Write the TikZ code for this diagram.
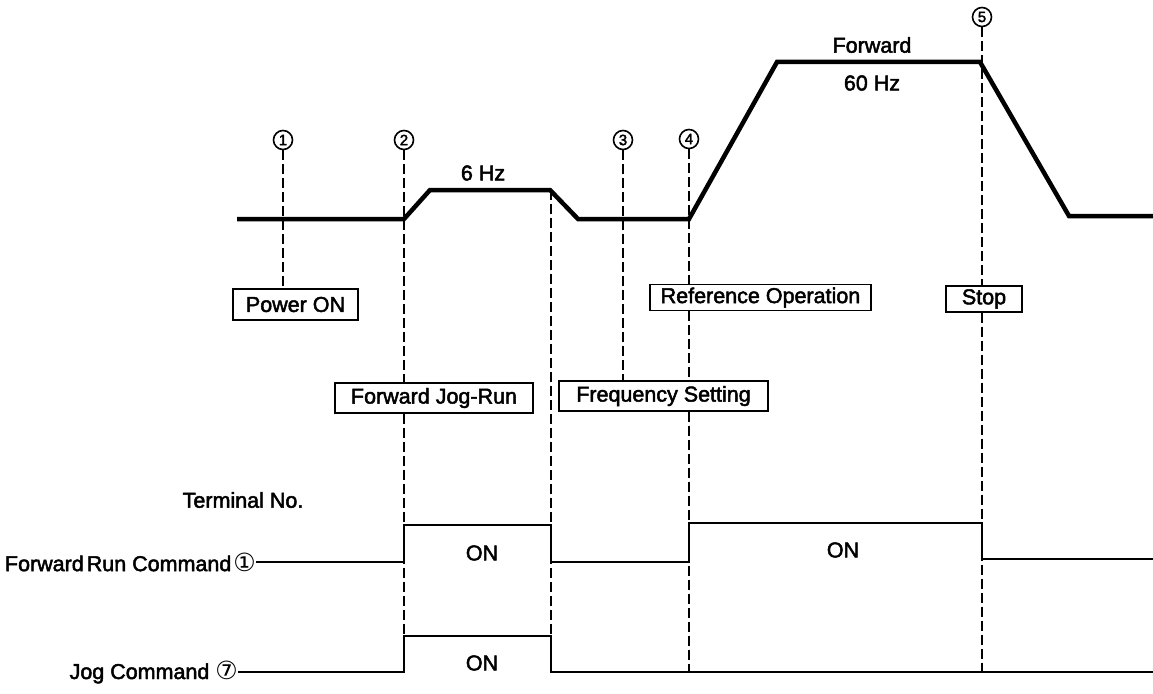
\documentclass[tikz,border=0pt]{standalone}
\usepackage{fontspec}
\setmainfont{Liberation Sans}
\newfontfamily\symfont{DejaVu Sans}
\newfontfamily\heavyfont{Liberation Sans}[FakeBold=2.2]
\begin{document}
\begin{tikzpicture}[x=1pt,y=-1pt,
  lbl/.style={font=\heavyfont\fontsize{21.5}{24}\selectfont, inner sep=0pt},
  evt/.style={circle, draw, line width=1.6pt, minimum size=19pt, inner sep=0pt,
    font=\heavyfont\fontsize{15}{15}\selectfont},
  box/.style={draw, line width=1.3pt, font=\heavyfont\fontsize{21.5}{24}\selectfont, inner sep=0pt},
  guide/.style={line width=1.8pt, dash pattern=on 10pt off 4pt},
  wave/.style={line width=4.5pt, line join=miter},
  sig/.style={line width=2.8pt}]
\useasboundingbox[fill=white] (0,0) rectangle (1153,693);

% circled event numbers
\node[evt] (c1) at (283,140) {1};
\node[evt] (c2) at (404,140) {2};
\node[evt] (c3) at (623,140) {3};
\node[evt] (c4) at (689,139) {4};
\node[evt] (c5) at (982,17) {5};

% boxes
\node[box, minimum width=125pt, minimum height=31pt] (power) at (295.5,304.5) {Power ON};
\node[box, minimum width=198pt, minimum height=30pt] (fjog) at (434,398) {Forward Jog-Run};
\node[box, minimum width=209pt, minimum height=30pt] (freq) at (663.5,396) {Frequency Setting};
\node[box, minimum width=221pt, minimum height=26pt] (refop) at (760.5,297.5) {Reference Operation};
\node[box, minimum width=76pt, minimum height=26pt] (stop) at (984,299) {Stop};

% frequency labels
\node[lbl] (f6) at (483,173) {6 Hz};
\node[lbl] (fwd) at (872,45) {Forward};
\node[lbl] (f60) at (872,83) {60 Hz};

% signal labels
\node[lbl] (term) at (243,500) {Terminal No.};
\node[lbl, anchor=east] (frc) at (256,562) {Forward\hspace{3pt}Run Command\hspace{2pt}{\symfont\fontsize{25}{25}\selectfont ①}};
\node[lbl, anchor=east] (jc) at (238,672) {Jog Command {\symfont\fontsize{25}{25}\selectfont ⑦}};
\node[lbl] (on1) at (482,553) {ON};
\node[lbl] (on2) at (482,663) {ON};
\node[lbl] (on3) at (843,550) {ON};

% guide end points
\coordinate (g2b) at (404,636);
\coordinate (gjt) at (551,190);
\coordinate (gjb) at (551,636);
\coordinate (g4b) at (689,672);
\coordinate (g5b) at (982,672);

% dashed guide lines
\draw[guide] (c1.south) -- (c1.south |- power.north);
\draw[guide] (c2.south) -- (c2.south |- fjog.north);
\draw[guide] (c2.south |- fjog.south) -- (g2b);
\draw[guide] (gjt) -- (gjb);
\draw[guide] (c3.south) -- (c3.south |- freq.north);
\draw[guide] (c4.south) -- (c4.south |- refop.north);
\draw[guide] (c4.south |- refop.south) -- (c4.south |- freq.north);
\draw[guide] (c4.south |- freq.south) -- (g4b);
\draw[guide] (c5.south) -- (c5.south |- stop.north);
\draw[guide] (c5.south |- stop.south) -- (g5b);

% output frequency waveform
\draw[wave] (237,219) -- (404,219) -- (430,190) -- (550,190) -- (578,219)
  -- (689,219) -- (777,62) -- (980,62) -- (1069,216) -- (1153,216);

% command signals
\draw[sig] (frc.east) -- (404,562) -- (404,525) -- (551,525) -- (551,562)
  -- (689,562) -- (689,523) -- (982,523) -- (982,559) -- (1153,559);
\draw[sig] (jc.east) -- (404,672) -- (404,636) -- (551,636) -- (551,672) -- (1153,672);
\end{tikzpicture}
\end{document}
